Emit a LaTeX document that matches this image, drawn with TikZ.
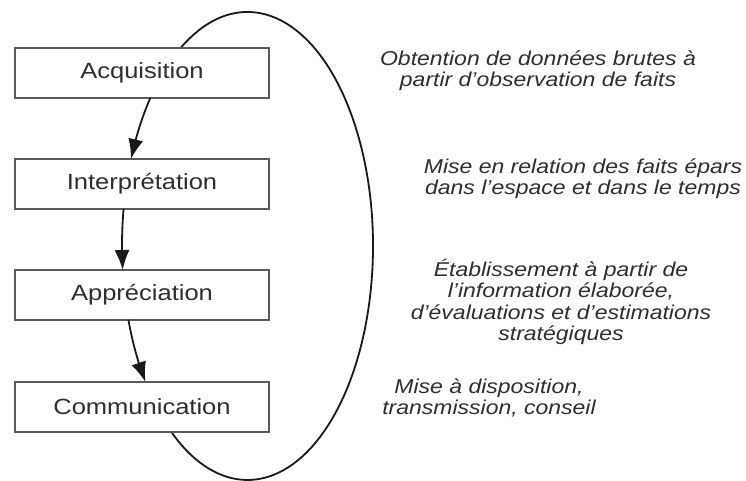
\documentclass[tikz,border=0pt]{standalone}
\usepackage{fontspec}
\setmainfont{Liberation Sans}[FakeStretch=1.16]
\newfontfamily\notefont{Liberation Sans}[FakeStretch=1.15]
\usetikzlibrary{arrows.meta,bending}
\definecolor{inkgray}{HTML}{2E2E2E}
\definecolor{boxline}{HTML}{5A5A5A}

\begin{document}
\begin{tikzpicture}[x=1pt,y=1pt,
  stagebox/.style={draw=boxline, line width=1.4pt, fill=white,
    minimum width=254pt, minimum height=50pt, inner sep=0pt,
    text=inkgray, font=\fontsize{22}{26}\selectfont},
  note/.style={align=center, text=inkgray, inner sep=0pt,
    font=\notefont\itshape\fontsize{20}{21.5}\selectfont},
  loopline/.style={line width=1.8pt, draw=black!90},
  flow/.style={loopline, -{Latex[length=20pt,width=15pt]}}
]
\useasboundingbox (0,0) rectangle (746,481);

% centre of the elliptical cycle
\coordinate (c) at (247.5,235);

% visible outer part of the cycle (top, right side, bottom)
\draw[loopline] (c) ++(122.2:125.5pt and 234pt)
  arc[start angle=122.2, end angle=-127.4, x radius=125.5pt, y radius=234pt];

% the four stages
\node[stagebox] (acq)  at (142,408) {Acquisition};
\node[stagebox] (int)  at (142,297) {Interprétation};
\node[stagebox] (app)  at (142,186) {Appréciation};
\node[stagebox] (comm) at (142,74)  {Communication};

% points where the cycle leaves each box
\path (c) ++(140.8:125.5pt and 234pt) coordinate (acq-out);
\path (c) ++(170.9:125.5pt and 234pt) coordinate (int-out);
\path (c) ++(198.4:125.5pt and 234pt) coordinate (app-out);

% arrows along the left side of the cycle
\draw[flow] (acq-out) arc[start angle=140.8, end angle=158.2, x radius=125.5pt, y radius=234pt];
\draw[flow] (int-out) arc[start angle=170.9, end angle=185.9, x radius=125.5pt, y radius=234pt];
\draw[flow] (app-out) arc[start angle=198.4, end angle=215.5, x radius=125.5pt, y radius=234pt];

% descriptions
\node[note] (acq-note)  at (538,410.5) {Obtention de données brutes à\\partir d’observation de faits};
\node[note] (int-note)  at (583,302.5) {Mise en relation des faits épars\\dans l’espace et dans le temps};
\node[note] (app-note)  at (561,179)   {Établissement à partir de\\l’information élaborée,\\d’évaluations et d’estimations\\stratégiques};
\node[note] (comm-note) at (489,83)    {Mise à disposition,\\transmission, conseil};
\end{tikzpicture}
\end{document}
